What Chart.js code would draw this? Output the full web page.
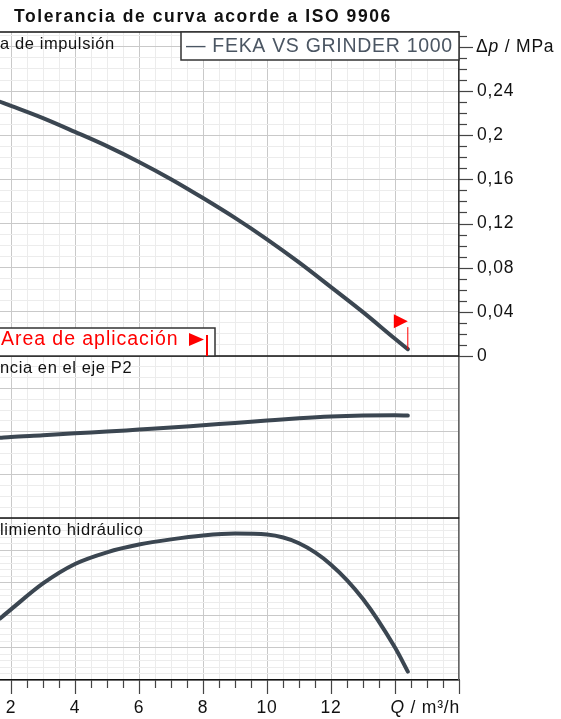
<!DOCTYPE html>
<html>
<head>
<meta charset="utf-8">
<script src="https://cdn.jsdelivr.net/npm/chart.js@4.4.1/dist/chart.umd.min.js"></script>
<style>
html, body { margin: 0; padding: 0; background: #fff; }
#wrap { position: relative; width: 561px; height: 719px; overflow: hidden; }
#curveChart { position: absolute; left: 0; top: 0; }
#title {
    position: absolute; left: 14px; top: 5px;
    font: bold 17.5px "Liberation Sans", Arial, sans-serif;
    letter-spacing: 1.6px; color: #111; white-space: nowrap; line-height: 22px;
}
</style>
</head>
<body>
<div id="wrap">
    <canvas id="curveChart" width="561" height="719"></canvas>
    <div id="title">Tolerancia de curva acorde a ISO 9906</div>
</div>
<script>
// Curve data (Q in m³/h)
const flowQ = [1.66, 2, 3, 4, 5, 6, 7, 8, 9, 10, 11, 12, 13, 14, 14.4];
const pressureMPa = [0.2303, 0.2266, 0.2155, 0.203, 0.1901, 0.1758, 0.1602, 0.1431, 0.1251, 0.1057, 0.0848, 0.0624, 0.0397, 0.0156, 0.0062];
const powerKW = [0.742, 0.751, 0.766, 0.785, 0.800, 0.819, 0.837, 0.859, 0.880, 0.902, 0.923, 0.939, 0.948, 0.951, 0.948];
const efficiencyPct = [19.0, 21.8, 29.8, 35.8, 39.4, 41.8, 43.4, 44.6, 45.2, 44.9, 42.2, 35.6, 25.0, 10.0, 2.6];

// Axis ticks and labels
const qTicks = [2, 4, 6, 8, 10, 12, 14, 16];
const qLabels = ['2', '4', '6', '8', '10', '12', '', ''];
const pressureTicks = [0, 0.04, 0.08, 0.12, 0.16, 0.2, 0.24, 0.28];
const pressureLabels = ['0', '0,04', '0,08', '0,12', '0,16', '0,2', '0,24', ''];

const pumpName = 'FEKA VS GRINDER 1000';
const FONT = '"Liberation Sans", Arial, sans-serif';
const curveColor = '#3b4651';
const majorGrid = '#c9c9c9';
const minorGrid = '#ececec';

function stepTicks(from, to, step) {
    const out = [];
    for (let v = from; v <= to + 1e-9; v += step) {
        out.push({ value: Math.round(v * 1000) / 1000 });
    }
    return out;
}
function isMultiple(v, step) {
    return Math.abs(v / step - Math.round(v / step)) < 1e-6;
}
function findIndex(list, v) {
    return list.findIndex(t => Math.abs(t - v) < 1e-6);
}
function line(ctx, x1, y1, x2, y2) {
    ctx.beginPath();
    ctx.moveTo(x1, y1);
    ctx.lineTo(x2, y2);
    ctx.stroke();
}
function text(ctx, str, x, y, size, color, spacing, style) {
    ctx.font = (style || '') + ' ' + size + 'px ' + FONT;
    ctx.fillStyle = color;
    ctx.letterSpacing = spacing + 'px';
    ctx.textBaseline = 'middle';
    ctx.textAlign = 'left';
    ctx.fillText(str, x, y);
    return ctx.measureText(str).width;
}

const fixWidth = scale => { scale.width = 102; };

// Frame, tick marks, labels and boxes
const decorations = {
    id: 'decorations',
    beforeDraw(chart) {
        chart.ctx.letterSpacing = '0.8px';
    },
    beforeDatasetsDraw(chart) {
        const { ctx, chartArea: area, scales } = chart;
        ctx.save();
        ctx.strokeStyle = '#111';
        ctx.lineWidth = 1.5;
        line(ctx, area.left, area.top, area.right, area.top);
        line(ctx, area.left, scales.yP.getPixelForValue(0), area.right, scales.yP.getPixelForValue(0));
        line(ctx, area.left, scales.yPow.getPixelForValue(0), area.right, scales.yPow.getPixelForValue(0));

        // pressure axis ticks
        ctx.strokeStyle = '#444';
        ctx.lineWidth = 1.2;
        stepTicks(0, 0.29, 0.01).forEach(t => {
            const y = Math.round(scales.yP.getPixelForValue(t.value)) + 0.5;
            line(ctx, area.right, y, area.right + (isMultiple(t.value, 0.04) ? 14 : 8), y);
        });
        // flow axis ticks
        stepTicks(2, 16, 0.5).forEach(t => {
            const x = Math.round(scales.x.getPixelForValue(t.value)) + 0.5;
            line(ctx, x, area.bottom, x, area.bottom + (isMultiple(t.value, 2) ? 14 : 8));
        });
        ctx.restore();
    },
    afterDatasetsDraw(chart) {
        const { ctx, chartArea: area, scales } = chart;
        ctx.save();

        // panel captions (cut at the left edge like the original)
        text(ctx, 'a de impulsión', 0, 44, 16.5, '#111', 0.6);
        text(ctx, 'ncia en el eje P2', 0, 368, 16.5, '#111', 0.6);
        text(ctx, 'limiento hidráulico', 0, 530, 16.5, '#111', 0.6);

        // axis titles
        const yUnit = scales.yP.getPixelForValue(0.28);
        let px = area.right + 17;
        px += text(ctx, 'Δ', px, yUnit, 17.5, '#111', 0.8);
        px += text(ctx, 'p', px, yUnit, 17.5, '#111', 0.8, 'italic');
        text(ctx, ' / MPa', px, yUnit, 17.5, '#111', 0.8);

        const yQ = area.bottom + 28;
        ctx.font = '17.5px ' + FONT;
        ctx.letterSpacing = '0.8px';
        const restW = ctx.measureText(' / m³/h').width;
        ctx.font = 'italic 17.5px ' + FONT;
        const qW = ctx.measureText('Q').width;
        let qx = area.right - restW - qW + 1;
        qx += text(ctx, 'Q', qx, yQ, 17.5, '#111', 0.8, 'italic');
        text(ctx, ' / m³/h', qx, yQ, 17.5, '#111', 0.8);

        // legend box
        ctx.fillStyle = '#fff';
        ctx.fillRect(181, area.top, area.right - 181, 28);
        ctx.strokeStyle = '#333';
        ctx.lineWidth = 1.5;
        ctx.strokeRect(181, area.top, area.right - 181, 28);
        text(ctx, '— ' + pumpName, 186, area.top + 15, 19.5, '#4b5663', 0.7);

        // application range box
        const yZero = scales.yP.getPixelForValue(0);
        ctx.fillStyle = '#fff';
        ctx.fillRect(area.left, yZero - 28, 215, 28);
        ctx.strokeStyle = '#333';
        ctx.strokeRect(area.left - 1, yZero - 28, 216, 28);
        text(ctx, 'Area de aplicación', 1, yZero - 16, 19.5, '#ff0000', 0.95);
        ctx.fillStyle = '#ff0000';
        ctx.beginPath();
        ctx.moveTo(189, yZero - 23);
        ctx.lineTo(189, yZero - 10);
        ctx.lineTo(204, yZero - 16.5);
        ctx.closePath();
        ctx.fill();
        ctx.fillRect(206, yZero - 21, 2, 21);

        // end-of-range flag on the pressure curve
        const last = flowQ.length - 1;
        const ex = scales.x.getPixelForValue(flowQ[last]);
        const ey = scales.yP.getPixelForValue(pressureMPa[last]);
        ctx.strokeStyle = '#ff0000';
        ctx.lineWidth = 1;
        line(ctx, ex, ey, ex, ey - 22);
        ctx.beginPath();
        ctx.moveTo(ex - 14, ey - 35);
        ctx.lineTo(ex - 14, ey - 21);
        ctx.lineTo(ex, ey - 28);
        ctx.closePath();
        ctx.fill();
        ctx.restore();
    }
};

const toPoints = values => flowQ.map((q, i) => ({ x: q, y: values[i] }));
const curve = (label, values, axis) => ({
    label: label,
    data: toPoints(values),
    yAxisID: axis,
    borderColor: curveColor,
    borderWidth: 4,
    borderCapStyle: 'round',
    pointRadius: 0,
    cubicInterpolationMode: 'monotone',
    fill: false
});

const hiddenTicks = { display: false };

new Chart(document.getElementById('curveChart'), {
    type: 'line',
    data: {
        datasets: [
            curve(pumpName, pressureMPa, 'yP'),
            curve('P2', powerKW, 'yPow'),
            curve('Rendimiento', efficiencyPct, 'yEff')
        ]
    },
    options: {
        responsive: false,
        animation: false,
        devicePixelRatio: 1,
        layout: { padding: { top: 32, left: 0, right: 0, bottom: 0 } },
        plugins: {
            legend: { display: false },
            tooltip: { enabled: false }
        },
        scales: {
            x: {
                type: 'linear',
                min: 1.656,
                max: 16,
                afterBuildTicks: s => { s.ticks = stepTicks(2, 16, 0.5); },
                afterFit: s => {
                    s.height = 39;
                    s.paddingLeft = 0;
                    s.paddingRight = 0;
                },
                grid: {
                    color: c => isMultiple(c.tick.value, 2) ? majorGrid : minorGrid,
                    drawTicks: false
                },
                border: { color: '#111', width: 1.5 },
                ticks: {
                    autoSkip: false,
                    maxRotation: 0,
                    padding: 18,
                    color: '#111',
                    font: { family: FONT, size: 17.5 },
                    callback: v => {
                        const i = findIndex(qTicks, v);
                        return i >= 0 ? qLabels[i] : '';
                    }
                }
            },
            yP: {
                type: 'linear',
                position: 'right',
                stack: 'panels',
                stackWeight: 2,
                min: 0,
                max: 0.2935,
                afterBuildTicks: s => { s.ticks = stepTicks(0, 0.29, 0.01); },
                afterFit: fixWidth,
                grid: {
                    color: c => isMultiple(c.tick.value, 0.04) ? majorGrid : minorGrid,
                    drawTicks: false
                },
                border: { color: '#333', width: 1.5 },
                ticks: {
                    autoSkip: false,
                    padding: 18,
                    color: '#111',
                    font: { family: FONT, size: 17.5 },
                    callback: v => {
                        const i = findIndex(pressureTicks, v);
                        return i >= 0 ? pressureLabels[i] : '';
                    }
                }
            },
            yPow: {
                type: 'linear',
                position: 'right',
                stack: 'panels',
                stackWeight: 1,
                min: 0,
                max: 1.5,
                afterBuildTicks: s => { s.ticks = stepTicks(0, 1.4, 0.1); },
                afterFit: fixWidth,
                grid: {
                    color: c => isMultiple(c.tick.value, 0.4) ? majorGrid : minorGrid,
                    drawTicks: false
                },
                border: { color: '#666', width: 1.5 },
                ticks: hiddenTicks
            },
            yEff: {
                type: 'linear',
                position: 'right',
                stack: 'panels',
                stackWeight: 1,
                min: 0,
                max: 50,
                afterBuildTicks: s => { s.ticks = stepTicks(0, 48, 2); },
                afterFit: fixWidth,
                grid: {
                    color: c => isMultiple(c.tick.value, 10) ? majorGrid : minorGrid,
                    drawTicks: false
                },
                border: { color: '#666', width: 1.5 },
                ticks: hiddenTicks
            }
        }
    },
    plugins: [decorations]
});
</script>
</body>
</html>
